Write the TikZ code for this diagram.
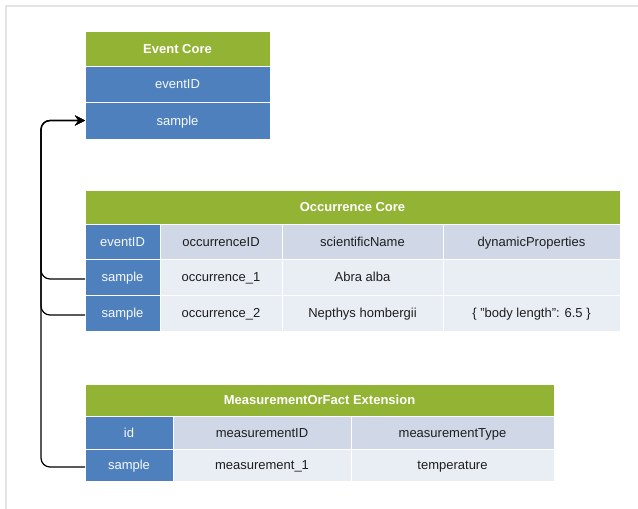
\documentclass[tikz,border=0pt]{standalone}
\usepackage{fontspec}
\setmainfont{Liberation Sans}
\usetikzlibrary{positioning, arrows.meta}

\definecolor{hdrgreen}{HTML}{93B335}
\definecolor{keyblue}{HTML}{4E80BD}
\definecolor{namegray}{HTML}{D0D8E8}
\definecolor{valgray}{HTML}{E9EDF4}
\definecolor{txtdark}{HTML}{1E1E1E}
\definecolor{framegray}{HTML}{E3E3DF}

\tikzset{
    cellbase/.style={rectangle, draw=white, line width=1pt, inner sep=0pt, outer sep=0pt,
        anchor=north west, text height=9.5pt, text depth=0.5pt, font=\fontsize{13}{15}\selectfont},
    hdr/.style={cellbase, fill=hdrgreen, text=white, font=\fontsize{13}{15}\selectfont\bfseries},
    keycell/.style={cellbase, fill=keyblue, text=white!96!keyblue},
    namecell/.style={cellbase, fill=namegray, text=txtdark},
    valcell/.style={cellbase, fill=valgray, text=txtdark},
    link/.style={line width=1.2pt, rounded corners=9pt, ->},
}

\begin{document}
\begin{tikzpicture}[x=1pt, y=-1pt, >={Stealth[length=10pt, width=10pt, inset=3.5pt]}]
    \useasboundingbox (0,0) rectangle (638,509);
    % =========================
    \draw[framegray, line width=2pt] (6,509) -- (6,6) -- (638,6);

    % event core
    \node[hdr, minimum width=185, minimum height=35] (ev-head) at (85,31) {Event Core};
    \node[keycell, minimum width=185, minimum height=36] (ev-id) at (ev-head.south west) {eventID};
    \node[keycell, minimum width=185, minimum height=37] (ev-sample) at (ev-id.south west) {sample};
    \coordinate[left=44pt of ev-sample.west] (trunk);

    % occurrence core
    \node[hdr, minimum width=535, minimum height=34] (oc-head) at (85,190) {Occurrence Core};
    \node[keycell, minimum width=75, minimum height=35] (oc-k0) at (oc-head.south west) {eventID};
    \node[namecell, minimum width=122, minimum height=35] (oc-a0) at (oc-k0.north east) {occurrenceID};
    \node[namecell, minimum width=161, minimum height=35] (oc-b0) at (oc-a0.north east) {scientificName};
    \node[namecell, minimum width=177, minimum height=35] (oc-c0) at (oc-b0.north east) {dynamicProperties};

    \node[keycell, minimum width=75, minimum height=36] (oc-s1) at (oc-k0.south west) {sample};
    \node[valcell, minimum width=122, minimum height=36] (oc-a1) at (oc-s1.north east) {occurrence\_1};
    \node[valcell, minimum width=161, minimum height=36] (oc-b1) at (oc-a1.north east) {Abra alba};
    \node[valcell, minimum width=177, minimum height=36] (oc-c1) at (oc-b1.north east) {};

    \node[keycell, minimum width=75, minimum height=36] (oc-s2) at (oc-s1.south west) {sample};
    \node[valcell, minimum width=122, minimum height=36] (oc-a2) at (oc-s2.north east) {occurrence\_2};
    \node[valcell, minimum width=161, minimum height=36] (oc-b2) at (oc-a2.north east) {Nepthys hombergii};
    \node[valcell, minimum width=177, minimum height=36] (oc-c2) at (oc-b2.north east) {\{ "body length": 6.5 \}};

    % measurement extension
    \node[hdr, minimum width=469, minimum height=32] (mf-head) at (85,384) {MeasurementOrFact Extension};
    \node[keycell, minimum width=88, minimum height=33] (mf-k0) at (mf-head.south west) {id};
    \node[namecell, minimum width=178, minimum height=33] (mf-a0) at (mf-k0.north east) {measurementID};
    \node[namecell, minimum width=203, minimum height=33] (mf-b0) at (mf-a0.north east) {measurementType};

    \node[keycell, minimum width=88, minimum height=32] (mf-s1) at (mf-k0.south west) {sample};
    \node[valcell, minimum width=178, minimum height=32] (mf-a1) at (mf-s1.north east) {measurement\_1};
    \node[valcell, minimum width=203, minimum height=32] (mf-b1) at (mf-a1.north east) {temperature};

    % ===============================
    \draw[link] ([yshift=-2pt]oc-s1.west) -| (trunk) -- (ev-sample.west);
    \draw[link] ([yshift=-2pt]oc-s2.west) -| (trunk) -- (ev-sample.west);
    \draw[link] ([yshift=-2pt]mf-s1.west) -| (trunk) -- (ev-sample.west);
\end{tikzpicture}
\end{document}
